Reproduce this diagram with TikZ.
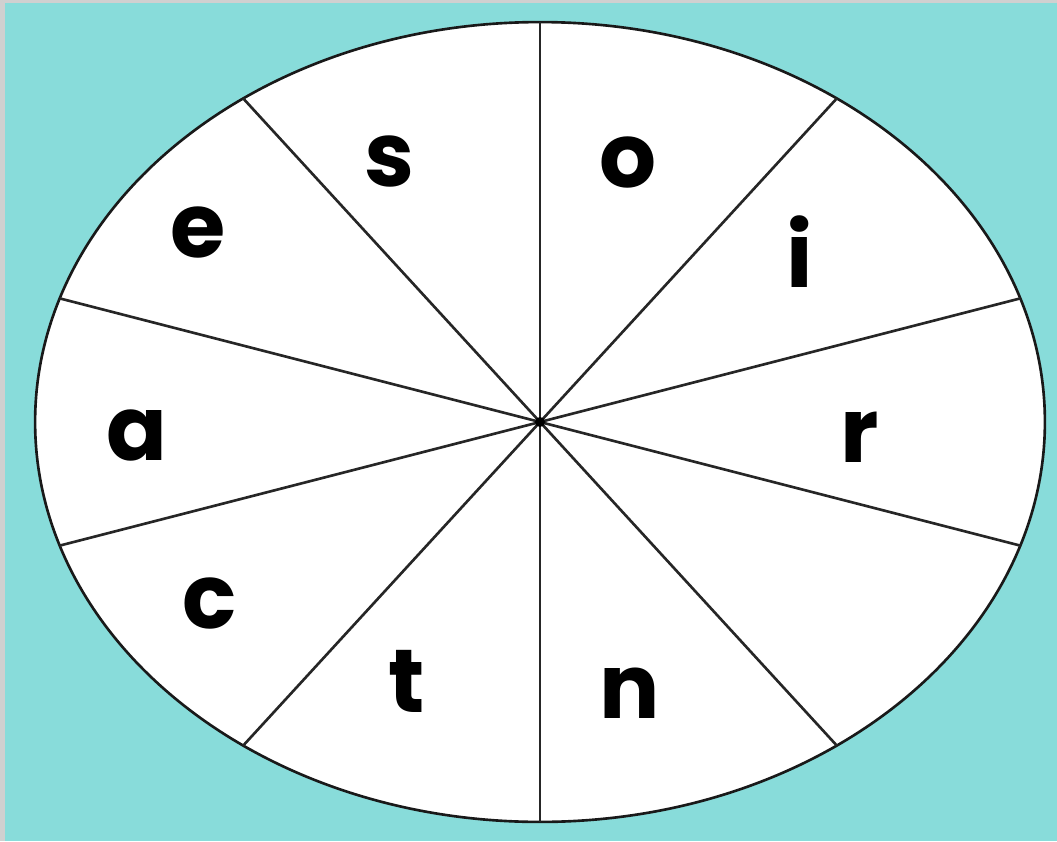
\documentclass[tikz,border=0pt]{standalone}
\usepackage{fontspec}
\setmainfont{Poppins}
\usetikzlibrary{calc}
\definecolor{pagegrey}{HTML}{D0D0D0}
\definecolor{wheelteal}{HTML}{88DCDA}
\tikzset{
    letter/.style={anchor=base, inner sep=0pt, font=\fontsize{51}{56}\selectfont\bfseries},
    spoke/.style={line width=1.5pt, black!85}
}
\begin{document}
\begin{tikzpicture}[x=0.02cm, y=-0.02cm]
    % page and background
    \fill[pagegrey] (0,0) rectangle (1057,841);
    \fill[wheelteal] (5,3) rectangle (1057,841);
    \useasboundingbox (0,0) rectangle (1057,841);
    % the wheel
    \coordinate (c) at (540,422);
    \draw[draw=black!90, fill=white, line width=1.5pt] (c) ellipse [x radius=10.1cm, y radius=8cm];
    % ten sectors, 36 degrees each
    \foreach \a [count=\i] in {90,54,18,-18,-54,-90,-126,-162,162,126}
        \coordinate (rim\i) at ({540+505*cos(\a)},{422-400*sin(\a)});
    \foreach \i in {1,...,10}
        \draw[spoke] (c) -- (rim\i);
    \fill (c) circle (0.1cm);
    % letters
    \node[letter] (ls) at (389,187) {s};
    \node[letter] (lo) at (628,188) {o};
    \node[letter] (le) at (198,257) {e};
    \node[letter] (li) at (800,287) {i};
    \node[letter] (la) at (137,460) {a};
    \node[letter] (lr) at (860,462) {r};
    \node[letter] (lc) at (210,628) {c};
    \node[letter] (lt) at (407,712) {t};
    \node[letter] (ln) at (630,718) {n};
\end{tikzpicture}
\end{document}
